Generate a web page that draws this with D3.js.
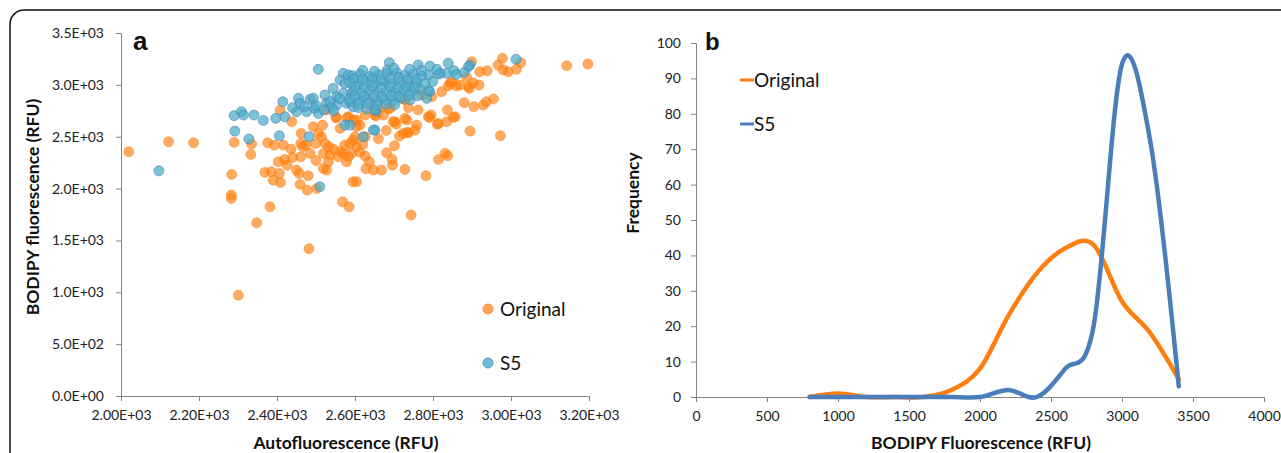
<!DOCTYPE html>
<html>
<head>
<meta charset="utf-8">
<script src="https://cdnjs.cloudflare.com/ajax/libs/d3/7.8.5/d3.min.js"></script>
<style>
  body { margin: 0; background: #fff; }
  svg { display: block; font-family: Lato, "Open Sans", sans-serif; }
  .axis path, .axis line { stroke: #868686; }
  .axis text { font-size: 14px; fill: #222; font-family: Lato, sans-serif; }
  .title { font-weight: bold; font-size: 17.5px; fill: #111; }
  .legend { font-size: 19px; fill: #111; }
  .panel { font-family: "Liberation Sans", Arial, sans-serif; font-weight: bold; fill: #111; }
</style>
</head>
<body>
<svg width="1281" height="453"></svg>
<script>
// panel a: autofluorescence vs BODIPY fluorescence, [x, y] in RFU
var originalPoints = [
  [2020,2355],[2122,2451],[2186,2441],[2290,2445],[2284,2136],[2283,1937],[2283,1905],[2301,972],[2348,1670],[2382,1824],[2482,1420],
  [2335,2429],[2333,2329],[2376,2441],[2393,2419],[2416,2419],[2436,2381],[2403,2258],[2420,2281],[2426,2226],[2369,2156],[2386,2162],
  [2406,2146],[2390,2081],[2409,2059],[2450,2178],[2457,2146],[2461,2435],[2466,2403],[2474,2419],[2461,2306],[2485,2339],[2480,2123],
  [2459,2040],[2478,1985],[2506,2532],[2514,2499],[2499,2435],[2523,2435],[2533,2403],[2519,2339],[2536,2323],[2532,2258],[2519,2194],
  [2527,2178],[2502,2001],[2557,2306],[2570,2339],[2562,2355],[2578,2258],[2583,2306],[2574,2419],[2587,2435],[2595,2065],[2568,1872],
  [2585,1824],[2408,2757],[2438,2644],[2462,2532],[2493,2596],[2517,2612],[2551,2683],[2562,2580],[2580,2683],[2527,2757],
  [2604,2403],[2595,2467],[2591,2339],[2600,2499],[2626,2499],[2620,2426],[2626,2313],[2637,2258],[2628,2191],[2647,2178],[2604,2065],
  [2744,1744],[2553,2686],[2583,2692],[2597,2660],[2604,2596],[2714,2506],[2737,2538],[2754,2564],[2701,2413],[2681,2345],[2695,2281],
  [2696,2226],[2668,2178],[2728,2185],[2782,2123],[2814,2281],[2831,2339],[2838,2316],[2758,2612],[2734,2542],[2728,2677],[2702,2644],
  [2706,2622],[2737,2779],[2762,2757],[2726,2860],[2690,2773],[2673,2709],[2654,2699],[2647,2789],[2662,2764],[2852,2686],[2835,2644],
  [2811,2619],[2791,2686],[2795,2709],[2895,2554],[2973,2509],[2837,2757],[2880,2828],[2905,2789],[2929,2805],[2937,2837],[2955,2863],
  [2893,2966],[2903,3020],[2918,2998],[2886,3074],[2899,3223],[2920,3127],[2939,3136],[2848,3030],[2860,2989],[2839,2989],[2822,2934],
  [2844,3014],[2869,2998],[2891,2982],[2771,2902],[2797,2885],[2728,2860],[2685,2773],[2698,2644],[2724,2532],[2733,2660],[2788,2692],
  [2814,2628],[2857,2692],[2978,3256],[2967,3191],[3025,3214],[2980,3143],[2993,3127],[3014,3150],[3143,3185],[3197,3201],
  [2626,2709],[2604,2660],[2613,2612],[2651,2709],[2545,2380],[2612,2350],[2660,2480],[2680,2560],[2500,2270],[2440,2300]
];
var s5Points = [
  [2097,2171],[2290,2703],[2309,2741],[2314,2709],[2341,2709],[2365,2657],[2292,2554],[2328,2477],[2397,2677],[2420,2692],[2415,2837],
  [2406,2509],[2455,2870],[2459,2822],[2450,2741],[2476,2741],[2485,2860],[2493,2870],[2497,2773],[2506,2725],[2482,2499],[2510,2017],
  [2506,3150],[2523,2902],[2527,2822],[2544,2966],[2553,2885],[2570,3111],[2583,3095],[2562,3046],[2574,3014],[2570,2918],[2591,2918],
  [2578,2822],[2553,2805],[2536,2837],[2587,2837],[2595,2789],[2574,2612],[2587,2612],[2621,2499],[2651,2564],[2647,2564],
  [2688,3214],[2683,3143],[2762,3191],[2792,3181],[2788,3095],[2839,3208],[2835,3111],[2854,3136],[2895,3191],[2891,3175],[2818,3111],
  [2814,3104],[2799,3030],[2792,2934],[2784,2870],[2788,2944],[3013,3246],[2654,2750],
  [2594,3088],[2613,3102],[2638,3081],[2660,3097],[2681,3108],[2707,3116],[2728,3092],[2749,3105],[2771,3086],
  [2587,3021],[2608,3006],[2630,3027],[2651,3009],[2673,3031],[2694,3012],[2715,3024],[2737,3003],[2758,3018],[2779,3011],
  [2596,2941],[2617,2925],[2638,2947],[2660,2929],[2681,2938],[2702,2921],[2724,2945],[2745,2930],[2767,2952],
  [2587,2862],[2613,2847],[2634,2866],[2656,2844],[2677,2858],[2698,2849],[2720,2871],[2741,2855],
  [2608,2781],[2630,2768],[2651,2757],
  [2598,3060],[2620,3055],[2645,3065],[2668,3050],[2690,3060],[2712,3070],[2735,3050],[2757,3058],
  [2600,2980],[2625,2975],[2645,2990],[2668,2972],[2690,2985],[2710,2968],[2732,2980],[2752,2975],
  [2600,2895],[2622,2890],[2648,2900],[2670,2882],[2693,2897],[2715,2888],[2738,2900],[2760,2895],
  [2610,2815],[2633,2820],[2657,2805],[2680,2812],[2702,2808],[2560,2870],[2540,2780],[2520,2760],
  [2545,2750],[2500,2800],[2470,2790],[2440,2780],[2620,3140],[2650,3130],[2700,3160],[2740,3150],
  [2770,3140],[2810,3150],[2860,3100],[2880,3120]
];

// panel b: frequency distributions
var bins = [800,1000,1200,1400,1600,1800,2000,2200,2400,2600,2800,3000,3200,3400];
var originalFreq = [0,1,0,0,0,2,8,23,35,42,43,27,18,5];
var s5Freq = [0,0,0,0,0,0,0,2,0,8,20,94,72,3];

var scatterXTicks = [2000,2200,2400,2600,2800,3000,3200];
var scatterYTicks = [0,500,1000,1500,2000,2500,3000,3500];
var freqXTicks = [0,500,1000,1500,2000,2500,3000,3500,4000];
var freqYTicks = [0,10,20,30,40,50,60,70,80,90,100];

var svg = d3.select("svg");

svg.append("rect")
  .attr("x", 10).attr("y", 10)
  .attr("width", 1320).attr("height", 520)
  .attr("rx", 14)
  .attr("fill", "none").attr("stroke", "#111").attr("stroke-width", 1.5);

var expFmt = function(d, digits){
  var s = d.toExponential(digits).toUpperCase();
  return s.replace(/E([+-])(\d)$/, "E$10$2");
};

// ---- panel a ----
var xA = d3.scaleLinear().domain([2000, 3200]).range([121, 589]);
var yA = d3.scaleLinear().domain([0, 3500]).range([396, 33]);

svg.append("g").attr("class", "axis")
  .attr("transform", "translate(0,396)")
  .call(d3.axisBottom(xA).tickValues(scatterXTicks).tickSize(5).tickPadding(9)
    .tickFormat(function(d){ return expFmt(d, 2); }));
svg.append("g").attr("class", "axis")
  .attr("transform", "translate(121,0)")
  .call(d3.axisLeft(yA).tickValues(scatterYTicks).tickSize(5).tickPadding(12)
    .tickFormat(function(d){ return expFmt(d, 1); }));

svg.append("g").selectAll("circle")
  .data(originalPoints).enter().append("circle")
  .attr("cx", function(d){ return xA(d[0]); })
  .attr("cy", function(d){ return yA(d[1]); })
  .attr("r", 5)
  .attr("fill", "#ff7f0e").attr("fill-opacity", 0.65)
  .attr("stroke", "#ff7f0e").attr("stroke-opacity", 0.5);

svg.append("g").selectAll("circle")
  .data(s5Points).enter().append("circle")
  .attr("cx", function(d){ return xA(d[0]); })
  .attr("cy", function(d){ return yA(d[1]); })
  .attr("r", 5)
  .attr("fill", "#4bacc6").attr("fill-opacity", 0.72)
  .attr("stroke", "#4f81bd").attr("stroke-opacity", 0.6);

svg.append("text").attr("class", "panel").attr("x", 133).attr("y", 50)
  .attr("font-size", 26).text("a");

svg.append("circle").attr("cx", 488).attr("cy", 309).attr("r", 5)
  .attr("fill", "#ffa357").attr("stroke", "#ff9a45");
svg.append("text").attr("class", "legend").attr("x", 500).attr("y", 316).text("Original");
svg.append("circle").attr("cx", 488).attr("cy", 363).attr("r", 5)
  .attr("fill", "#6fbdd3").attr("stroke", "#5b9ac6");
svg.append("text").attr("class", "legend").attr("x", 500).attr("y", 370).text("S5");

svg.append("text").attr("class", "title").attr("text-anchor", "middle")
  .attr("x", 346).attr("y", 449).text("Autofluorescence (RFU)");
svg.append("text").attr("class", "title").attr("text-anchor", "middle")
  .attr("transform", "translate(39,207) rotate(-90)").text("BODIPY fluorescence (RFU)");

// ---- panel b ----
var xB = d3.scaleLinear().domain([0, 4000]).range([696, 1264]);
var yB = d3.scaleLinear().domain([0, 100]).range([397, 43]);

svg.append("g").attr("class", "axis")
  .attr("transform", "translate(0,397)")
  .call(d3.axisBottom(xB).tickValues(freqXTicks).tickSize(5).tickPadding(9)
    .tickFormat(d3.format("d")));
svg.append("g").attr("class", "axis")
  .attr("transform", "translate(696,0)")
  .call(d3.axisLeft(yB).tickValues(freqYTicks).tickSize(5).tickPadding(10)
    .tickFormat(d3.format("d")));

var line = d3.line()
  .x(function(d){ return xB(d[0]); })
  .y(function(d){ return yB(d[1]); })
  .curve(d3.curveCardinal.tension(0));

svg.append("path")
  .datum(d3.zip(bins, originalFreq))
  .attr("d", line)
  .attr("fill", "none").attr("stroke", "#ff7f0e").attr("stroke-width", 4.5)
  .attr("stroke-linejoin", "round").attr("stroke-linecap", "round");
svg.append("path")
  .datum(d3.zip(bins, s5Freq))
  .attr("d", line)
  .attr("fill", "none").attr("stroke", "#4a7ebb").attr("stroke-width", 4.5)
  .attr("stroke-linejoin", "round").attr("stroke-linecap", "round");

svg.append("text").attr("class", "panel").attr("x", 705).attr("y", 50)
  .attr("font-size", 24).text("b");

svg.append("line").attr("x1", 740).attr("x2", 754).attr("y1", 80).attr("y2", 80)
  .attr("stroke", "#ff7f0e").attr("stroke-width", 3);
svg.append("text").attr("class", "legend").attr("x", 754).attr("y", 87).text("Original");
svg.append("line").attr("x1", 740).attr("x2", 754).attr("y1", 124).attr("y2", 124)
  .attr("stroke", "#4a7ebb").attr("stroke-width", 3);
svg.append("text").attr("class", "legend").attr("x", 754).attr("y", 131).text("S5");

svg.append("text").attr("class", "title").attr("text-anchor", "middle")
  .attr("x", 981).attr("y", 449).text("BODIPY Fluorescence (RFU)");
svg.append("text").attr("class", "title").attr("text-anchor", "middle")
  .attr("transform", "translate(639,193) rotate(-90)").text("Frequency");
</script>
</body>
</html>
